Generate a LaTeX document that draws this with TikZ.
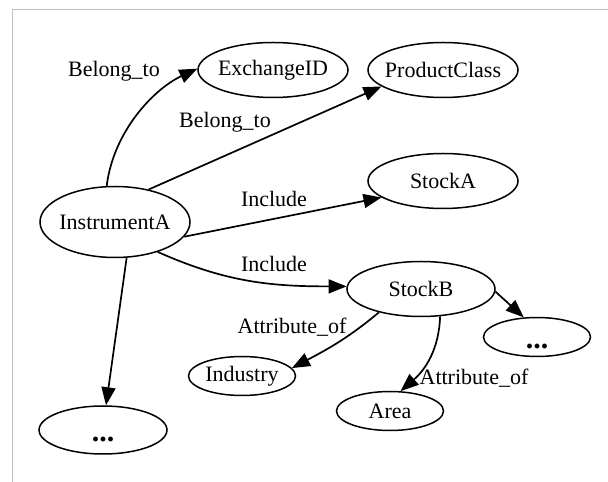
\documentclass[tikz,border=0pt]{standalone}
\usepackage{fontspec}
\setmainfont{Liberation Serif}
\usetikzlibrary{shapes.geometric,arrows.meta}
\tikzset{
  ent/.style={draw, ellipse, line width=1.5pt, inner sep=0pt, font=\fontsize{22}{24}\selectfont},
  big/.style={ent, minimum width=150pt, minimum height=55pt},
  small/.style={ent, minimum width=107pt, minimum height=39pt},
  dots/.style={text height=24pt, text depth=0pt, font=\fontsize{30}{30}\selectfont\bfseries},
  lbl/.style={inner sep=0pt, font=\fontsize{22}{24}\selectfont},
  rel/.style={line width=1.7pt, -{Triangle[length=18pt,width=14pt]}}
}
\newcommand{\ctr}[1]{\makebox[0pt][c]{#1}}
\begin{document}
\begin{tikzpicture}[x=1pt,y=1pt]
\useasboundingbox (0,0) rectangle (608,482);
\draw[line width=1pt, color=black!25] (12,0) -- (12,472) -- (608,472);

\node[ent, minimum width=150pt, minimum height=71pt] (ia) at (115,260) {\ctr{InstrumentA}};
\node[big] (ex) at (273,412) {\ctr{ExchangeID}};
\node[big] (pc) at (443,412) {\ctr{ProductClass}};
\node[big] (sa) at (443,301) {\ctr{StockA}};
\node[big, minimum width=148pt] (sb) at (421,193) {\ctr{StockB}};
\node[small, dots] (dr) at (537,145) {\ctr{...}};
\node[small] (ar) at (390,71) {\ctr{Area}};
\node[small] (in) at (242,106) {\ctr{Industry}};
\node[ent, dots, minimum width=128pt, minimum height=48pt] (dl) at (103,52) {\ctr{...}};

\node[lbl] (l1) at (114,411) {Belong\_to};
\node[lbl] (l2) at (225,360) {Belong\_to};
\node[lbl] (l3) at (274,283) {Include};
\node[lbl] (l4) at (274,218) {Include};
\node[lbl] (l5) at (292,155) {Attribute\_of};
\node[lbl] (l6) at (474,104) {Attribute\_of};

\draw[rel] (ia.103) .. controls +(83:55) and +(205:48) .. (ex.179);
\draw[rel] (ia.44) -- (pc.195);
\draw[rel] (ia.-12) -- (sa.195);
\draw[rel] (ia.-35) to[out=-24, in=180] (sb.178);
\draw[rel] (ia.-72) -- (dl.83);
\draw[rel] (sb.209) to[out=220, in=28] (in.9);
\draw[rel] (sb.-55) to[out=-92, in=41] (ar.62);
\draw[rel] (sb.-2) -- (dr.124);
\end{tikzpicture}
\end{document}
